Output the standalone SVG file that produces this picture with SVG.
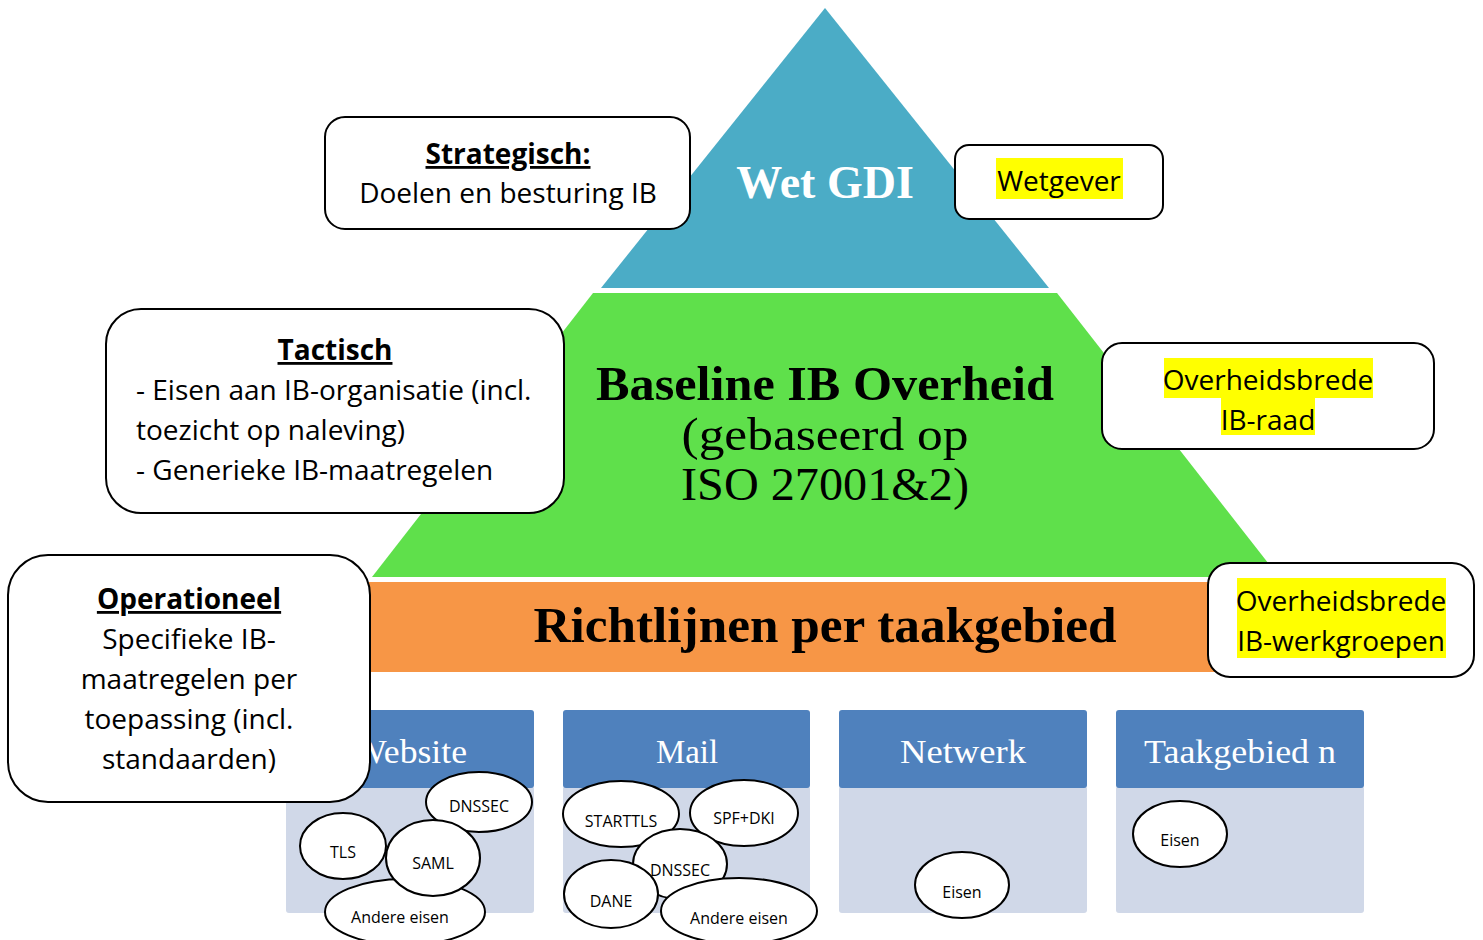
<svg xmlns="http://www.w3.org/2000/svg" width="1483" height="940" viewBox="0 0 1483 940">
<style>
.box{fill:#fff;stroke:#000;stroke-width:2}
.t{font-family:"Open Sans",Lato,"Liberation Sans",sans-serif;font-size:28px;fill:#000}
.b{font-weight:bold;text-decoration:underline}
.c{text-anchor:middle}
.hl{fill:#ffff00}
.sb{font-family:"Liberation Serif",serif;font-weight:bold;text-anchor:middle;fill:#000}
.sr{font-family:"Liberation Serif",serif;text-anchor:middle;fill:#000}
.hd{fill:#4f81bd}
.bd{fill:#d0d8e8}
.hdt{font-family:"Liberation Serif",serif;font-size:34px;fill:#fff;text-anchor:middle}
.el{fill:#fff;stroke:#000;stroke-width:2}
.et{font-family:"Open Sans",Lato,"Liberation Sans",sans-serif;font-size:16px;fill:#000;text-anchor:middle}
</style>
<rect width="1483" height="940" fill="#fff"/>
<g id="pyramid">
<polygon points="825,8 601,288 1049,288" fill="#4bacc6"/>
<polygon points="593,293 1057,293 1279,577 372,577" fill="#5fe04b"/>
<rect x="369" y="582" width="905" height="90" fill="#f79646"/>
<text class="sb" x="825" y="198" font-size="46" style="fill:#fff">Wet GDI</text>
<text class="sb" x="825" y="400" font-size="48" textLength="458" lengthAdjust="spacingAndGlyphs">Baseline IB Overheid</text>
<text class="sr" x="825" y="450" font-size="46" textLength="287" lengthAdjust="spacingAndGlyphs">(gebaseerd op</text>
<text class="sr" x="825" y="500" font-size="46" textLength="288" lengthAdjust="spacingAndGlyphs">ISO 27001&amp;2)</text>
<text class="sb" x="825" y="642" font-size="50" textLength="583" lengthAdjust="spacingAndGlyphs">Richtlijnen per taakgebied</text>
</g>
<g id="website">
<rect class="bd" x="286" y="786" width="248" height="127" rx="3"/>
<rect class="hd" x="286" y="710" width="248" height="78" rx="3"/>
<text class="hdt" x="410" y="763" textLength="114" lengthAdjust="spacingAndGlyphs">Website</text>
<ellipse class="el" cx="405" cy="912" rx="80" ry="33"/>
<text class="et" x="400" y="923">Andere eisen</text>
<ellipse class="el" cx="343" cy="846" rx="43" ry="33"/>
<text class="et" x="343" y="858">TLS</text>
<ellipse class="el" cx="479" cy="802" rx="53" ry="30"/>
<text class="et" x="479" y="812">DNSSEC</text>
<ellipse class="el" cx="433" cy="858" rx="47" ry="38"/>
<text class="et" x="433" y="869">SAML</text>
</g>
<g id="mail">
<rect class="bd" x="563" y="786" width="247" height="127" rx="3"/>
<rect class="hd" x="563" y="710" width="247" height="78" rx="3"/>
<text class="hdt" x="687" y="763" textLength="62" lengthAdjust="spacingAndGlyphs">Mail</text>
<ellipse class="el" cx="621" cy="814" rx="58" ry="33"/>
<text class="et" x="621" y="827">STARTTLS</text>
<ellipse class="el" cx="744" cy="813" rx="54" ry="33"/>
<text class="et" x="744" y="824">SPF+DKI</text>
<ellipse class="el" cx="680" cy="864" rx="47" ry="35"/>
<text class="et" x="680" y="876">DNSSEC</text>
<ellipse class="el" cx="611" cy="894" rx="47" ry="34"/>
<text class="et" x="611" y="907">DANE</text>
<ellipse class="el" cx="739" cy="911" rx="78" ry="33"/>
<text class="et" x="739" y="924">Andere eisen</text>
</g>
<g id="netwerk">
<rect class="bd" x="839" y="786" width="248" height="127" rx="3"/>
<rect class="hd" x="839" y="710" width="248" height="78" rx="3"/>
<text class="hdt" x="963" y="763" textLength="126" lengthAdjust="spacingAndGlyphs">Netwerk</text>
<ellipse class="el" cx="962" cy="885" rx="47" ry="33"/>
<text class="et" x="962" y="898">Eisen</text>
</g>
<g id="taakgebied">
<rect class="bd" x="1116" y="786" width="248" height="127" rx="3"/>
<rect class="hd" x="1116" y="710" width="248" height="78" rx="3"/>
<text class="hdt" x="1240" y="763" textLength="192" lengthAdjust="spacingAndGlyphs">Taakgebied n</text>
<ellipse class="el" cx="1180" cy="834" rx="47" ry="33"/>
<text class="et" x="1180" y="846">Eisen</text>
</g>
<g id="strategisch">
<rect class="box" x="325" y="117" width="365" height="112" rx="20"/>
<text class="t b c" x="508" y="164">Strategisch:</text>
<text class="t c" x="508" y="203">Doelen en besturing IB</text>
</g>
<g id="wetgever">
<rect class="box" x="955" y="145" width="208" height="74" rx="14"/>
<rect class="hl" x="996" y="158" width="127" height="41"/>
<text class="t c" x="1059" y="191">Wetgever</text>
</g>
<g id="tactisch">
<rect class="box" x="106" y="309" width="458" height="204" rx="35"/>
<text class="t b c" x="335" y="360">Tactisch</text>
<text class="t" x="136" y="400">- Eisen aan IB-organisatie (incl.</text>
<text class="t" x="136" y="440">toezicht op naleving)</text>
<text class="t" x="136" y="480">- Generieke IB-maatregelen</text>
</g>
<g id="ibraad">
<rect class="box" x="1102" y="343" width="332" height="106" rx="20"/>
<rect class="hl" x="1164" y="358" width="209" height="40"/>
<rect class="hl" x="1221" y="398" width="94" height="37"/>
<text class="t c" x="1268" y="390">Overheidsbrede</text>
<text class="t c" x="1268" y="430">IB-raad</text>
</g>
<g id="operationeel">
<rect class="box" x="8" y="555" width="362" height="247" rx="40"/>
<text class="t b c" x="189" y="609">Operationeel</text>
<text class="t c" x="189" y="649">Specifieke IB-</text>
<text class="t c" x="189" y="689">maatregelen per</text>
<text class="t c" x="189" y="729">toepassing (incl.</text>
<text class="t c" x="189" y="769">standaarden)</text>
</g>
<g id="werkgroepen">
<rect class="box" x="1208" y="563" width="266" height="114" rx="22"/>
<rect class="hl" x="1237" y="578" width="209" height="40"/>
<rect class="hl" x="1237" y="618" width="209" height="40"/>
<text class="t c" x="1341" y="611">Overheidsbrede</text>
<text class="t c" x="1341" y="651">IB-werkgroepen</text>
</g>
<g id="connectors"></g>
</svg>
